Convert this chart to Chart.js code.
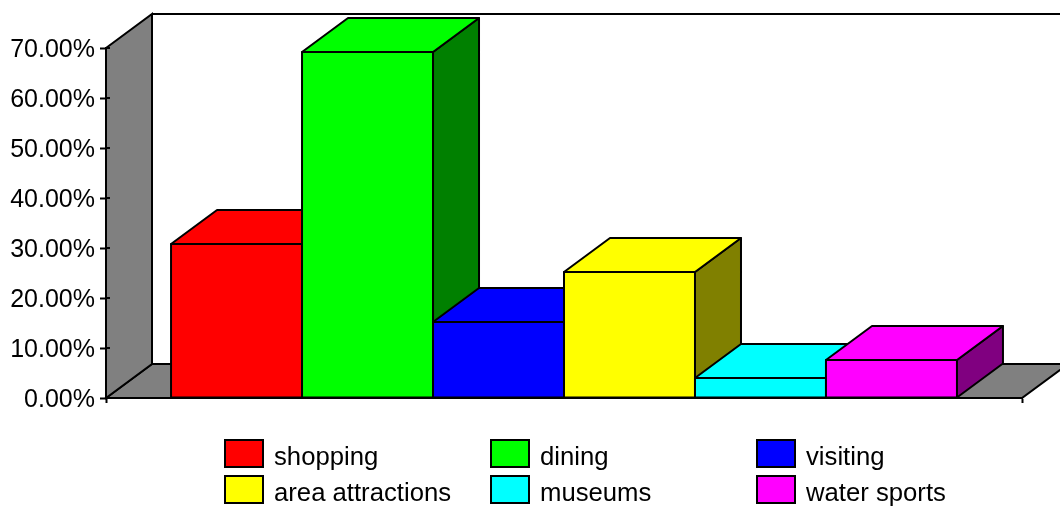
<!DOCTYPE html>
<html>
<head>
<meta charset="utf-8">
<style>
html,body{margin:0;padding:0;background:#fff;overflow:hidden}
#wrap{position:relative;width:1060px;height:506px}
</style>
<script src="https://cdn.jsdelivr.net/npm/chart.js@4"></script>
</head>
<body>
<div id="wrap"><canvas id="c" width="1060" height="506"></canvas></div>
<script>
const categories = [''];
const seriesNames = ['shopping','dining','visiting','area attractions','museums','water sports'];
const shopping = [30.8];
const dining = [69.2];
const visiting = [15.2];
const areaAttractions = [25.2];
const museums = [4.0];
const waterSports = [7.6];
const seriesValues = [shopping,dining,visiting,areaAttractions,museums,waterSports];
const frontColors = ['#ff0000','#00ff00','#0000ff','#ffff00','#00ffff','#ff00ff'];
const sideColors = ['#800000','#008000','#000080','#808000','#008080','#800080'];
const wallColor = '#808080';
const DX = 46, DY = -34;
const FONT = '"Liberation Sans", Arial, sans-serif';

function poly(ctx, pts, fill){
  ctx.beginPath();
  pts.forEach((p,i)=> i ? ctx.lineTo(p[0],p[1]) : ctx.moveTo(p[0],p[1]));
  ctx.closePath();
  if(fill){ctx.fillStyle=fill;ctx.fill();}
  ctx.stroke();
}

const threeD = {
  id:'threeD',
  beforeDatasetsDraw(chart){
    const {ctx,chartArea:a,scales:{y}} = chart;
    ctx.save();
    ctx.lineWidth=2; ctx.strokeStyle='#000'; ctx.lineJoin='miter';
    poly(ctx,[[a.left,a.bottom],[a.left+DX,a.bottom+DY],[a.right+DX,a.bottom+DY],[a.right,a.bottom]],wallColor);
    poly(ctx,[[a.left,a.top],[a.left+DX,a.top+DY],[a.left+DX,a.bottom+DY],[a.left,a.bottom]],wallColor);
    ctx.beginPath();
    ctx.moveTo(a.left+DX,a.top+DY); ctx.lineTo(chart.width+2,a.top+DY);
    ctx.stroke();
    y.ticks.forEach(t=>{
      const py=y.getPixelForValue(t.value);
      ctx.beginPath(); ctx.moveTo(a.left,py); ctx.lineTo(a.left+4,py); ctx.stroke();
    });
    ctx.restore();
  },
  // the library paints datasets last-to-first; the boxes must overlap first-to-last
  beforeDatasetDraw(){ return false; },
  afterDatasetsDraw(chart){
    const {ctx,chartArea:a}=chart;
    seriesNames.forEach((n,i)=>{
      const el=chart.getDatasetMeta(i).data[0];
      const l=el.x-el.width/2, r=el.x+el.width/2, t=el.y, b=el.base;
      ctx.save();
      ctx.lineWidth=2; ctx.strokeStyle='#000'; ctx.lineJoin='round';
      poly(ctx,[[r,t],[r+DX,t+DY],[r+DX,b+DY],[r,b]],sideColors[i]);
      poly(ctx,[[l,t],[l+DX,t+DY],[r+DX,t+DY],[r,t]],frontColors[i]);
      ctx.restore();
      el.draw(ctx,a);
      ctx.save();
      ctx.lineWidth=2; ctx.strokeStyle='#000'; ctx.lineJoin='round';
      poly(ctx,[[l,t],[r,t],[r,b],[l,b]],null);
      ctx.restore();
    });
    ctx.save();
    ctx.lineWidth=2; ctx.strokeStyle='#000';
    ctx.beginPath(); ctx.moveTo(a.left,a.bottom); ctx.lineTo(a.right,a.bottom); ctx.stroke();
    ctx.restore();
  }
};

const legendGrid = {
  id:'legendGrid',
  afterDraw(chart){
    const {ctx}=chart;
    const cols=[225,491,757], rows=[440,476];
    ctx.save();
    ctx.font='25.7px '+FONT; ctx.textBaseline='middle'; ctx.textAlign='left';
    seriesNames.forEach((n,i)=>{
      const x=cols[i%3], y=rows[Math.floor(i/3)];
      ctx.fillStyle=frontColors[i]; ctx.strokeStyle='#000'; ctx.lineWidth=2;
      ctx.fillRect(x,y,38,27); ctx.strokeRect(x,y,38,27);
      ctx.fillStyle='#000';
      ctx.fillText(n,x+49,y+18);
    });
    ctx.restore();
  }
};

new Chart(document.getElementById('c'),{
  type:'bar',
  data:{
    labels:categories,
    datasets:seriesNames.map((n,i)=>({
      label:n,
      data:seriesValues[i],
      backgroundColor:frontColors[i],
      borderWidth:0
    }))
  },
  options:{
    responsive:false,
    animation:false,
    devicePixelRatio:1,
    layout:{padding:{left:0,right:38,top:48,bottom:103}},
    plugins:{legend:{display:false},tooltip:{enabled:false},title:{display:false}},
    datasets:{bar:{categoryPercentage:0.858,barPercentage:1,grouped:true}},
    scales:{
      x:{
        offset:true,
        border:{display:true,color:'#000',width:2},
        grid:{display:true,offset:true,drawOnChartArea:false,drawTicks:true,tickLength:5,tickWidth:2,tickColor:'#000',color:'#000'},
        ticks:{display:true,padding:0,font:{size:1},color:'#000'},
        afterFit(s){s.height=5;}
      },
      y:{
        min:0,max:70,
        border:{display:true,color:'#000',width:2},
        grid:{display:true,drawOnChartArea:false,drawTicks:true,tickLength:6,tickWidth:2,tickColor:'#000',color:'#000'},
        ticks:{stepSize:10,padding:5,labelOffset:2,color:'#000',font:{family:FONT,size:25},callback:v=>v.toFixed(2)+'%'},
        afterFit(s){s.width=106;}
      }
    }
  },
  plugins:[threeD,legendGrid]
});
</script>
</body>
</html>
